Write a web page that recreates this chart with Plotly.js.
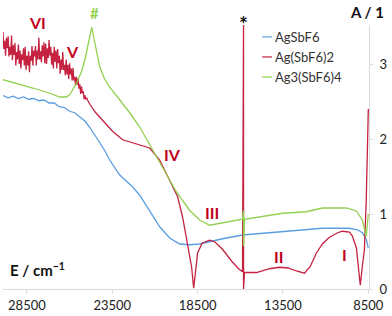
<!DOCTYPE html>
<html>
<head>
<meta charset="utf-8">
<script src="https://cdn.plot.ly/plotly-3.0.1.min.js"></script>
<style>
html,body{margin:0;padding:0;background:#fff;}
#chart{width:392px;height:316px;}
</style>
</head>
<body>
<div id="chart"></div>
<script>
// ---- data (wavenumber in cm^-1, absorbance) ----
var seriesNames = ["AgSbF6", "Ag(SbF6)2", "Ag3(SbF6)4"];

var agsbf6_E = [29900,29600,29300,29000,28700,28400,28100,27800,27500,27200,26900,26600,26300,26000,25700,25400,25100,24800,24500,24230,23900,23650,23060,22300,21890,21310,20720,20140,19550,18970,18380,17800,17040,15870,13530,11190,9610,9140,8850,8620,8500];
var agsbf6_A = [2.58,2.55,2.57,2.54,2.56,2.53,2.54,2.51,2.52,2.48,2.48,2.43,2.42,2.37,2.35,2.29,2.24,2.15,2.05,1.95,1.83,1.72,1.52,1.36,1.25,1.05,0.83,0.68,0.60,0.59,0.60,0.63,0.67,0.72,0.76,0.81,0.81,0.79,0.75,0.66,0.55];

// noisy part of Ag(SbF6)2, read every 50 cm^-1 from 29900 to 24950
var agsbf62_noisyE = [29900,29850,29800,29750,29700,29650,29600,29550,29500,29450,
                      29400,29350,29300,29250,29200,29150,29100,29050,29000,28950,
                      28900,28850,28800,28750,28700,28650,28600,28550,28500,28450,
                      28400,28350,28300,28250,28200,28150,28100,28050,28000,27950,
                      27900,27850,27800,27750,27700,27650,27600,27550,27500,27450,
                      27400,27350,27300,27250,27200,27150,27100,27050,27000,26950,
                      26900,26850,26800,26750,26700,26650,26600,26550,26500,26450,
                      26400,26350,26300,26250,26200,26150,26100,26050,26000,25950,
                      25900,25850,25800,25750,25700,25650,25600,25550,25500,25450,
                      25400,25350,25300,25250,25200,25150,25100,25050,25000,24950];
var agsbf62_noisyA = [3.43,3.20,3.31,3.11,3.35,3.21,3.37,3.10,3.23,3.12,
                      3.38,3.05,3.25,3.12,3.28,2.98,3.16,3.06,3.26,3.00,
                      3.18,2.94,3.13,3.05,3.21,2.98,3.23,2.92,3.11,2.98,
                      3.17,2.89,3.11,3.04,3.24,2.98,3.18,3.10,3.24,2.98,
                      3.18,3.06,3.35,3.06,3.17,3.02,3.25,3.10,3.29,3.01,
                      3.27,3.00,3.21,3.08,3.32,3.11,3.23,2.99,3.15,2.94,
                      3.23,3.03,3.18,2.94,3.20,3.01,3.11,2.87,3.06,2.92,
                      3.16,2.92,2.99,2.85,3.06,2.86,2.99,2.80,3.01,2.86,
                      2.94,2.78,2.95,2.78,2.83,2.71,2.83,2.72,2.81,2.67,
                      2.73,2.60,2.70,2.61,2.64,2.53,2.58,2.53,2.55,2.52];
// smooth remainder of Ag(SbF6)2
var agsbf62_restE = [24800,24650,24500,24230,23800,23470,22890,22300,21890,21310,
                     20720,20140,19670,19380,19090,18850,18730,18500,18240,17800,
                     17500,17040,16500,16100,15870,15810,15810,15750,15050,14290,
                     13700,13200,12710,12240,11900,11540,11190,10780,10300,10020,
                     9610,9440,9200,9140,9050,8970,8850,8730,8620,8500];
var agsbf62_restA = [2.46,2.40,2.36,2.29,2.18,2.10,1.99,1.95,1.92,1.88,
                     1.72,1.45,1.23,0.96,0.61,0.29,0.01,0.48,0.61,0.65,
                     0.63,0.53,0.37,0.27,0.23,3.52,0.00,0.22,0.22,0.27,
                     0.29,0.28,0.24,0.21,0.30,0.48,0.60,0.69,0.75,0.77,
                     0.76,0.71,0.55,0.39,0.20,0.05,0.30,0.52,1.20,2.40];

var ag3sbf64_E = [29900,28900,28150,27150,26570,26200,25990,25580,25300,25110,24820,24700,24520,24230,23950,23650,23060,22480,21890,21130,20550,19730,18970,18380,17800,17040,15870,15810,15810,15750,13530,12130,11190,9790,9200,8850,8620,8500];
var ag3sbf64_A = [2.79,2.73,2.68,2.61,2.56,2.56,2.59,2.75,2.90,3.05,3.36,3.49,3.28,2.96,2.80,2.69,2.52,2.35,2.16,1.85,1.63,1.29,1.05,0.92,0.85,0.88,0.93,1.05,0.57,0.93,1.01,1.03,1.08,1.08,1.04,0.92,0.70,1.00];

var xTickVals = [28500, 23500, 18500, 13500, 8500];
var yTickVals = [0, 1, 2, 3];
var bandLabels = ["VI", "V", "IV", "III", "II", "I"];

// ---- styling ----
var colors = ["#5a9ee0", "#c42240", "#92d050"];
var legendColors = ["#7fb2e6", "#d0506a", "#a8dc70"];
var font = "Lato, 'Open Sans', sans-serif";

var traces = [
  {x: agsbf6_E, y: agsbf6_A, name: seriesNames[0], mode: "lines", line: {color: colors[0], width: 1.3}},
  {x: agsbf62_noisyE.concat(agsbf62_restE), y: agsbf62_noisyA.concat(agsbf62_restA), name: seriesNames[1], mode: "lines", line: {color: colors[1], width: 1.3}},
  {x: ag3sbf64_E, y: ag3sbf64_A, name: seriesNames[2], mode: "lines", line: {color: colors[2], width: 1.3}}
];

var bandPos = [[0.0956,1.008],[0.191,0.898],[0.462,0.508],[0.571,0.288],[0.754,0.125],[0.932,0.129]];
var annotations = bandLabels.map(function(t, i){
  return {text: t, xref: "paper", yref: "paper", x: bandPos[i][0], y: bandPos[i][1],
          xanchor: "center", yanchor: "middle", showarrow: false,
          font: {family: font, size: 16, color: "#c00020", weight: 700}};
});
annotations.push({text: "#", xref: "paper", yref: "paper", x: 0.249, y: 1.045, xanchor: "center", yanchor: "middle",
  showarrow: false, font: {family: font, size: 15, color: "#92d050", weight: 700}});
annotations.push({text: "*", xref: "paper", yref: "paper", x: 0.656, y: 1.005, xanchor: "center", yanchor: "middle",
  showarrow: false, font: {family: font, size: 21, color: "#111", weight: 700}});
annotations.push({text: "<b>A / 1</b>", xref: "paper", yref: "paper", x: 0.943, y: 1.049, xanchor: "left", yanchor: "middle",
  showarrow: false, font: {family: font, size: 15, color: "#111"}});
annotations.push({text: "<b>E / cm<sup>−1</sup></b>", xref: "paper", yref: "paper", x: 0.0137, y: 0.072, xanchor: "left", yanchor: "middle",
  showarrow: false, font: {family: font, size: 15, color: "#111"}});

// legend (short line samples + text)
var legendRowsY = [0.955, 0.879, 0.803];
var shapes = [];
seriesNames.forEach(function(n, i){
  shapes.push({type: "line", xref: "paper", yref: "paper", x0: 0.708, x1: 0.735, y0: legendRowsY[i], y1: legendRowsY[i],
               line: {color: legendColors[i], width: 1.5}});
  annotations.push({text: n, xref: "paper", yref: "paper", x: 0.737, y: legendRowsY[i], xanchor: "left", yanchor: "middle",
                    showarrow: false, font: {family: font, size: 13, color: "#333"}});
});

var layout = {
  width: 392, height: 316,
  margin: {l: 3, r: 23, t: 25, b: 27},
  paper_bgcolor: "#fff", plot_bgcolor: "#fff",
  showlegend: false,
  xaxis: {range: [29900, 8460], tickvals: xTickVals, ticktext: xTickVals.map(String),
          showgrid: false, zeroline: false, showline: true, linecolor: "#d5dce3", linewidth: 1,
          ticks: "outside", ticklen: 4, tickcolor: "#d5dce3",
          tickfont: {family: font, size: 13, color: "#222"}},
  yaxis: {range: [0, 3.52], side: "right", tickvals: yTickVals, ticktext: yTickVals.map(String),
          showgrid: false, zeroline: false, showline: true, linecolor: "#d9d9d9", linewidth: 1,
          ticks: "outside", ticklen: 3, tickcolor: "#d9d9d9", ticklabelstandoff: 4,
          tickfont: {family: font, size: 13, color: "#222"}},
  shapes: shapes,
  annotations: annotations
};

Plotly.newPlot("chart", traces, layout, {staticPlot: true, displayModeBar: false});
</script>
</body>
</html>
